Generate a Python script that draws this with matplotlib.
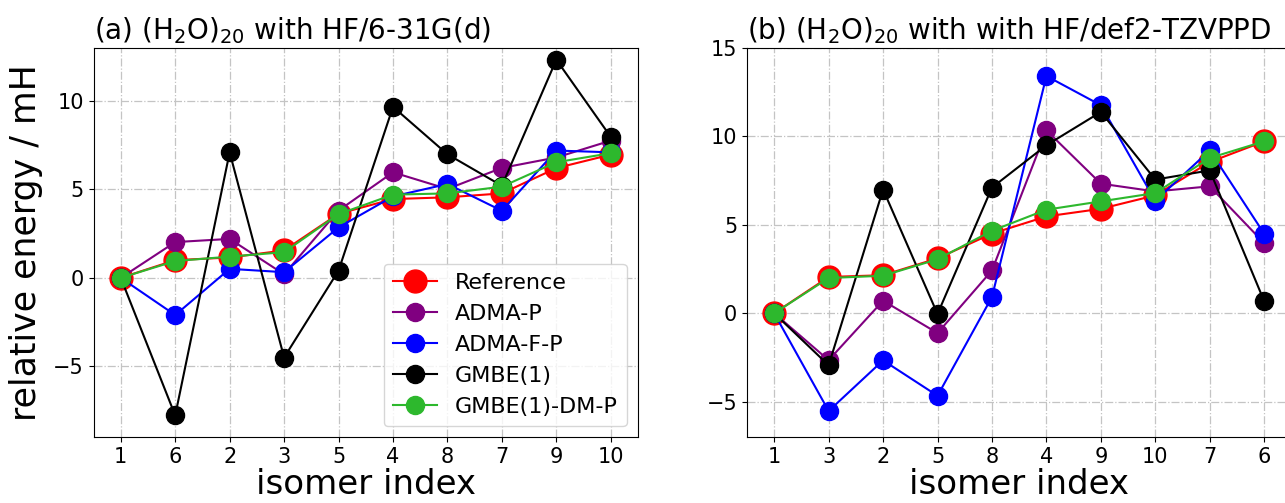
import numpy as np
import matplotlib
matplotlib.use('Agg')
import matplotlib.pyplot as plt

# isomer order on the x axis of each panel
order_a = ['1', '6', '2', '3', '5', '4', '8', '7', '9', '10']
order_b = ['1', '3', '2', '5', '8', '4', '9', '10', '7', '6']

# (a) HF/6-31G(d), relative energies in mH
ref_a = [0.0, 1.0, 1.15, 1.55, 3.62, 4.45, 4.55, 4.77, 6.2, 6.96]
admap_a = [0.0, 2.02, 2.2, 0.2, 3.8, 5.96, 5.02, 6.21, 6.8, 7.75]
admafp_a = [0.0, -2.1, 0.51, 0.32, 2.85, 4.6, 5.3, 3.79, 7.19, 7.09]
gmbe_a = [0.0, -7.77, 7.09, -4.5, 0.41, 9.66, 6.98, 5.2, 12.32, 7.96]
gmbedm_a = [0.0, 0.95, 1.2, 1.45, 3.6, 4.7, 4.77, 5.15, 6.53, 7.04]

# (b) HF/def2-TZVPPD
ref_b = [0.0, 2.05, 2.15, 3.1, 4.5, 5.47, 5.9, 6.66, 8.54, 9.71]
admap_b = [0.0, -2.65, 0.71, -1.12, 2.42, 10.33, 7.32, 6.88, 7.17, 3.96]
admafp_b = [0.0, -5.52, -2.66, -4.66, 0.92, 13.4, 11.75, 6.35, 9.2, 4.49]
gmbe_b = [0.0, -2.94, 6.99, -0.04, 7.1, 9.49, 11.37, 7.55, 8.07, 0.68]
gmbedm_b = [0.0, 1.99, 2.12, 3.05, 4.66, 5.85, 6.32, 6.79, 8.77, 9.71]

labels = ['Reference', 'ADMA-P', 'ADMA-F-P', 'GMBE(1)', 'GMBE(1)-DM-P']
colors = ['red', 'purple', 'blue', 'black', '#2db82d']
sizes = [16.5, 13, 13, 13, 13]

fig = plt.figure(figsize=(12.85, 5.03), dpi=100)
ax1 = fig.add_axes([0.0728, 0.1308, 0.4237, 0.7744])
ax2 = fig.add_axes([0.5813, 0.1308, 0.4237, 0.7744])

panels = [
    (ax1, order_a, [ref_a, admap_a, admafp_a, gmbe_a, gmbedm_a],
     r'(a) (H$_2$O)$_{20}$ with HF/6-31G(d)', (-9, 13)),
    (ax2, order_b, [ref_b, admap_b, admafp_b, gmbe_b, gmbedm_b],
     r'(b) (H$_2$O)$_{20}$ with with HF/def2-TZVPPD', (-7, 15)),
]

for ax, order, series, title, ylim in panels:
    x = np.arange(len(order))
    for y, lab, c, ms in zip(series, labels, colors, sizes):
        ax.plot(x, y, '-o', color=c, ms=ms, lw=1.5, label=lab)
    ax.set_xticks(x)
    ax.set_xticklabels(order)
    ax.set_xlim(-0.5, 9.5)
    ax.set_ylim(*ylim)
    ax.set_yticks([-5, 0, 5, 10, 15] if ylim[1] >= 15 else [-5, 0, 5, 10])
    ax.tick_params(labelsize=15)
    ax.grid(True, linestyle='-.', color='#c4c4c4', lw=0.9)
    ax.set_axisbelow(True)
    ax.set_title(title, loc='left', fontsize=20)
    ax.set_xlabel('isomer index', fontsize=24.5, labelpad=1)

ax1.set_ylabel('relative energy / mH', fontsize=25, labelpad=7)
ax1.legend(loc='lower right', fontsize=16)

plt.savefig('out.png', dpi=100)
